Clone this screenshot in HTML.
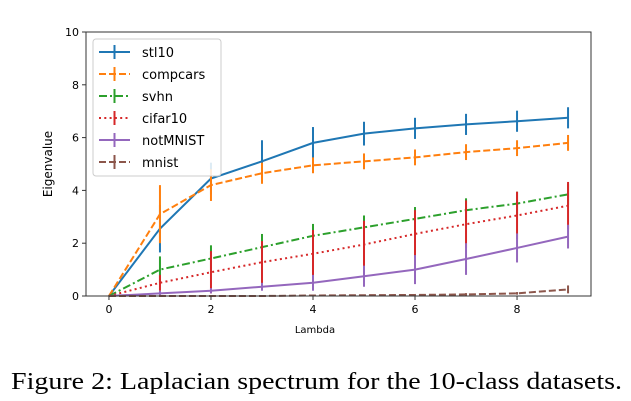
<!DOCTYPE html>
<html><head><meta charset="utf-8"><style>
body{margin:0;background:#fff;}
svg{display:block;font-family:"DejaVu Sans","Liberation Sans",sans-serif;}
.cap{font-family:"Liberation Serif",serif;}
</style></head><body>
<svg id="chart" width="631" height="401" viewBox="0 0 631 401" xmlns="http://www.w3.org/2000/svg">
<rect width="631" height="401" fill="#fff"/>
<g id="plot"></g>
<text x="315" y="333" font-size="10" text-anchor="middle" fill="#000">Lambda</text>
<text transform="translate(52,164) rotate(-90)" font-size="12" text-anchor="middle" fill="#000">Eigenvalue</text>
<text class="cap" x="11" y="389" style="font-family:'Liberation Serif',serif" font-size="24" textLength="611" lengthAdjust="spacingAndGlyphs" fill="#000">Figure 2: Laplacian spectrum for the 10-class datasets.</text>
</svg>
<script>
const lambdas=[0,1,2,3,4,5,6,7,8,9];
const seriesNames=["stl10","compcars","svhn","cifar10","notMNIST","mnist"];
const stl10=[0,2.55,4.45,5.1,5.8,6.15,6.35,6.5,6.62,6.75];
const stl10Err=[0,0.9,0.6,0.8,0.6,0.45,0.4,0.4,0.4,0.4];
const compcars=[0,3.1,4.2,4.65,4.95,5.1,5.25,5.45,5.6,5.8];
const compcarsErr=[0,1.1,0.6,0.4,0.3,0.3,0.3,0.3,0.3,0.3];
const svhn=[0,1.0,1.42,1.85,2.28,2.6,2.92,3.25,3.5,3.85];
const svhnErr=[0,0.5,0.5,0.5,0.45,0.45,0.45,0.45,0.45,0.4];
const cifar10=[0,0.5,0.9,1.28,1.6,1.95,2.35,2.72,3.05,3.42];
const cifar10Err=[0,0.3,0.8,0.8,0.9,0.9,0.9,0.9,0.9,0.9];
const notMNIST=[0,0.1,0.2,0.35,0.5,0.75,1.0,1.4,1.82,2.25];
const notMNISTErr=[0,0.1,0.1,0.15,0.3,0.4,0.55,0.6,0.55,0.45];
const mnist=[0,0,0,0,0.02,0.03,0.04,0.06,0.1,0.25];
const mnistErr=[0,0,0,0,0,0,0,0.05,0.05,0.15];
const xTicks=[0,2,4,6,8];
const yTicks=[0,2,4,6,8,10];

const L=86,R=591,T=32,B=296;
const xs=v=>L+(v+0.45)/9.9*(R-L);
const ys=v=>B-v/10*(B-T);
const NS="http://www.w3.org/2000/svg";
const g=document.getElementById('plot');
function el(t,a,p){const e=document.createElementNS(NS,t);for(const k in a)e.setAttribute(k,a[k]);(p||g).appendChild(e);return e;}
const styles=[
 {c:"#1f77b4",d:""},{c:"#ff7f0e",d:"7,3"},{c:"#2ca02c",d:"8,3,2,3"},
 {c:"#d62728",d:"2,3.3"},{c:"#9467bd",d:""},{c:"#8c564b",d:"7,3"}];
const data=[[stl10,stl10Err],[compcars,compcarsErr],[svhn,svhnErr],[cifar10,cifar10Err],[notMNIST,notMNISTErr],[mnist,mnistErr]];
data.forEach((s,i)=>{
 const st=styles[i];
 const grp=el('g',{});
 
 
 const pts=lambdas.map((x,j)=>xs(x)+','+ys(s[0][j])).join(' ');
 const pl=el('polyline',{points:pts,fill:'none',stroke:st.c,'stroke-width':2,'stroke-dasharray':st.d},grp);
 
 
 lambdas.forEach((x,j)=>{
  const e=s[1][j];
  const ln=el('line',{x1:xs(x),x2:xs(x),y1:ys(s[0][j]-e),y2:ys(s[0][j]+e),stroke:st.c,'stroke-width':2},grp);
  
  
 });
});
const fr=el('rect',{x:L,y:T,width:R-L,height:B-T,fill:'none',stroke:'#333','stroke-width':1});


xTicks.forEach(v=>{
 el('line',{x1:xs(v),x2:xs(v),y1:B,y2:B+4,stroke:'#333'});
 const t=el('text',{x:xs(v),y:B+17,'font-size':11,'text-anchor':'middle',fill:'#000'});
 t.textContent=v;
 
 
});
yTicks.forEach(v=>{
 el('line',{x1:L-4,x2:L,y1:ys(v),y2:ys(v),stroke:'#333'});
 const t=el('text',{x:L-7,y:ys(v)+4,'font-size':11,'text-anchor':'end',fill:'#000'});
 t.textContent=v;
 
 
});
const lg=el('g',{});


el('rect',{x:93,y:39,width:128,height:137,rx:3,fill:'#fff','fill-opacity':0.85,stroke:'#ccc'},lg);
seriesNames.forEach((n,i)=>{
 const y=52+i*22,st=styles[i];
 const ent=el('g',{},lg);
 
 
 el('line',{x1:99,x2:130,y1:y,y2:y,stroke:st.c,'stroke-width':2,'stroke-dasharray':st.d},ent);
 el('line',{x1:114.5,x2:114.5,y1:y-7,y2:y+7,stroke:st.c,'stroke-width':2},ent);
 const t=el('text',{x:142,y:y+5,'font-size':13,fill:'#000'},ent);
 t.textContent=n;
});
</script>
</body></html>
